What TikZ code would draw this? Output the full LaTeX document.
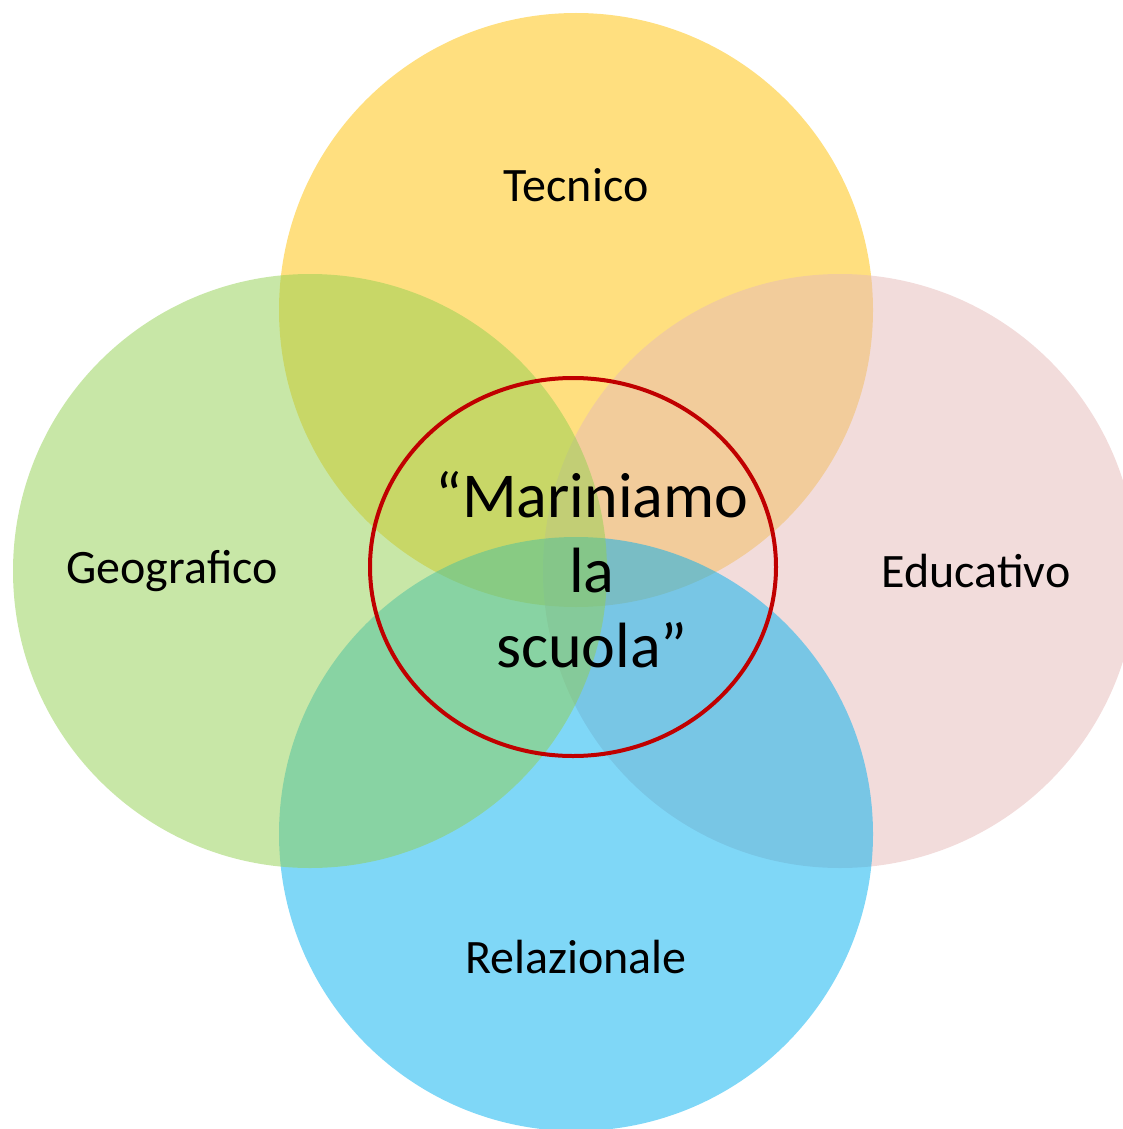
\documentclass[tikz,border=0pt]{standalone}
\usepackage{fontspec}
\setmainfont{Carlito}
\definecolor{cyellow}{HTML}{FFC000}
\definecolor{cgreen}{HTML}{92D050}
\definecolor{cpink}{HTML}{E6B9B8}
\definecolor{cblue}{HTML}{00B0F0}
\definecolor{cred}{HTML}{C00000}
\begin{document}
\begin{tikzpicture}[x=1pt,y=-1pt,
  set/.style={circle,minimum size=594pt,inner sep=0pt,fill opacity=0.5,draw=none},
  lbl/.style={font=\fontsize{48}{58}\selectfont,text=black}]
\useasboundingbox (0,0) rectangle (1122,1129);
\node[set,fill=cyellow] (top) at (576,310) {};
\node[set,fill=cpink] (right) at (840,571) {};
\node[set,fill=cblue] (bottom) at (576,834) {};
\node[set,fill=cgreen] (left) at (310,571) {};
\draw[cred,line width=4pt] (573,567) ellipse [x radius=203, y radius=189];
\node[lbl] (tecnico) at (576,185) {Tecnico};
\node[lbl] (geo) at (172,571) {Geografico};
\node[lbl] (edu) at (976,571) {Educativo};
\node[lbl] (rel) at (576,957) {Relazionale};
\node[align=center,font=\fontsize{64}{75}\selectfont] (center) at (592,570) {“Mariniamo\\la\\scuola”};
\end{tikzpicture}
\end{document}
